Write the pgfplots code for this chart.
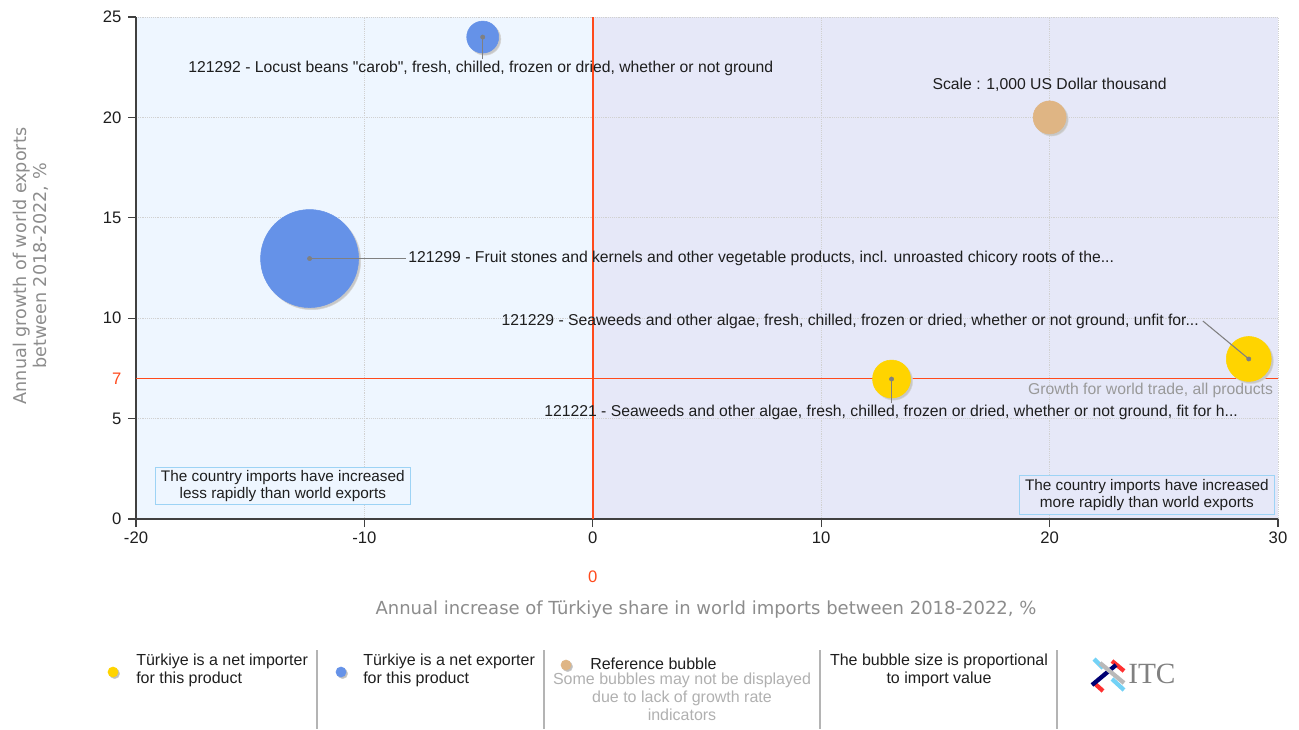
\documentclass[border=0pt]{standalone}
\usepackage{fontspec}
\setmainfont{Liberation Sans}
\newfontfamily\titlefont{DejaVu Sans}
\newfontfamily\logofont{Liberation Serif}
\usepackage{pgfplots}
\usepackage{pgfplotstable}
\pgfplotsset{compat=1.18}

\definecolor{bgleft}{HTML}{EEF6FF}
\definecolor{bgright}{HTML}{E6E8F8}
\definecolor{quadline}{HTML}{FF4A1C}
\definecolor{expblue}{HTML}{6592E8}
\definecolor{impyellow}{HTML}{FFD400}
\definecolor{reftan}{HTML}{DFB584}
\definecolor{boxblue}{HTML}{9DD3F5}
\definecolor{titlegray}{HTML}{8C8C8C}
\definecolor{notegray}{HTML}{B0B0B0}
\definecolor{sepgray}{HTML}{B4B4B4}
\definecolor{txt}{HTML}{1E1E1E}
\definecolor{linkgray}{HTML}{808080}

% bubble data: x = share increase, y = world export growth, r = radius in px
\pgfplotstableread{
x y r
-4.82 24.00 16
-12.40 12.97 49
}\exporters
\pgfplotstableread{
x y r
13.08 6.97 19
28.72 7.97 22.5
}\importers
\pgfplotstableread{
x y r
20 20 16.5
}\reference

\pgfplotsset{
  bubble/.style={only marks, mark=*, scatter,
    scatter/use mapped color={#1},
    visualization depends on={0.75*\thisrow{r} \as \rad},
    scatter/@pre marker code/.append style={/tikz/mark size=\rad}},
  leader/.style={linkgray, line width=0.8pt, no marks, on layer=axis foreground},
}

\newcommand{\annot}{\fontsize{11.8}{14}\selectfont}

\begin{document}
\begin{tikzpicture}[x=1pt,y=1pt]
\path (0,0) rectangle (974.25,546.75);

\begin{axis}[
  set layers,
  at={(102pt,157.5pt)}, anchor=south west,
  scale only axis, width=856.5pt, height=376.5pt,
  xmin=-20, xmax=30, ymin=0, ymax=25,
  xtick={-20,-10,...,30}, ytick={0,5,...,25},
  axis lines=left, axis line style={-, line width=0.9pt, draw=black!75},
  tick style={line width=0.8pt, draw=black!75},
  major tick length=6pt, tick align=outside,
  grid=major, grid style={densely dotted, line width=0.5pt, black!18},
  tick label style={font=\fontsize{12.5}{14}\selectfont, text=txt},
  yticklabel style={xshift=-1.5pt},
  /pgf/number format/assume math mode=true,
  extra y ticks={7},
  extra y tick style={grid=none, tick style={draw=none},
    tick label style={text=quadline}},
  clip=false,
]
\begin{pgfonlayer}{axis background}
  \fill[bgleft] (axis cs:-20,0) rectangle (axis cs:0,25);
  \fill[bgright] (axis cs:0,0) rectangle (axis cs:30,25);
\end{pgfonlayer}

% quadrant lines
\draw[quadline, line width=1.1pt] (axis cs:0,0) -- (axis cs:0,25);
\draw[quadline, line width=1.1pt] (axis cs:-20,7) -- (axis cs:30,7);

% shadows, then bubbles
\begin{scope}[xshift=1.6pt, yshift=-1.6pt]
\addplot[bubble={draw=black!16, fill=black!22}] table {\exporters};
\addplot[bubble={draw=black!16, fill=black!22}] table {\importers};
\addplot[bubble={draw=black!16, fill=black!22}] table {\reference};
\end{scope}
\addplot[bubble={draw=expblue, fill=expblue}] table {\exporters};
\addplot[bubble={draw=impyellow, fill=impyellow}] table {\importers};
\addplot[bubble={draw=reftan, fill=reftan}] table {\reference};

% leader lines from bubble centres to their labels
\addplot[leader] coordinates {(-4.82,24.00) (-4.82,22.9)};
\addplot[leader] coordinates {(-12.40,12.97) (-8.2,12.97)};
\addplot[leader] coordinates {(28.72,7.97) (26.71,9.86)};
\addplot[leader] coordinates {(13.08,6.97) (13.08,5.8)};
\addplot[only marks, mark=*, mark size=1.6pt, linkgray, on layer=axis foreground] table {\exporters};
\addplot[only marks, mark=*, mark size=1.6pt, linkgray, on layer=axis foreground] table {\importers};

% labels
\node[font=\annot, text=txt] at (axis cs:-4.90,22.46)
  {121292 - Locust beans \textquotedbl carob\textquotedbl, fresh, chilled, frozen or dried, whether or not ground};
\node[font=\annot, text=txt, anchor=west, inner sep=1pt] at (axis cs:-8.14,12.97)
  {121299 - Fruit stones and kernels and other vegetable products, incl. unroasted chicory roots of the...};
\node[font=\annot, text=txt, anchor=east, inner sep=1pt] at (axis cs:26.6,9.86)
  {121229 - Seaweeds and other algae, fresh, chilled, frozen or dried, whether or not ground, unfit for...};
\node[font=\annot, text=txt] at (axis cs:13.06,5.33)
  {121221 - Seaweeds and other algae, fresh, chilled, frozen or dried, whether or not ground, fit for h...};
\node[font=\annot, text=txt] at (axis cs:20,21.61) {Scale : 1,000 US Dollar thousand};
\node[font=\annot, text=black!40, anchor=east, inner sep=1pt] at (axis cs:29.85,6.42)
  {Growth for world trade, all products};

% quadrant notes
\node[draw=boxblue, line width=0.8pt, fill=bgleft, align=center, inner xsep=4pt, inner ysep=2pt,
  font=\fontsize{11.5}{12.5}\selectfont, text=txt] at (axis cs:-13.57,1.64)
  {The country imports have increased\\less rapidly than world exports};
\node[draw=boxblue, line width=0.8pt, fill=bgright, align=center, inner xsep=4pt, inner ysep=3pt,
  font=\fontsize{11.5}{12.5}\selectfont, text=txt] at (axis cs:24.26,1.2)
  {The country imports have increased\\more rapidly than world exports};

\node[font=\fontsize{12.5}{14}\selectfont, text=quadline] at (axis cs:0,-2.89) {0};
\end{axis}

% frame in pixel units for titles and the key below the plot
\begin{axis}[
  at={(0pt,0pt)}, anchor=south west,
  scale only axis, width=974.25pt, height=546.75pt,
  xmin=0, xmax=1299, ymin=0, ymax=729,
  hide axis, clip=false,
]
\node[font=\titlefont\fontsize{13.5}{15}\selectfont, text=titlegray] at (axis cs:706,119)
  {Annual increase of Türkiye share in world imports between 2018-2022, \%};
\node[font=\titlefont\fontsize{13.2}{15}\selectfont, text=titlegray, rotate=90, align=center]
  at (axis cs:31,463) {Annual growth of world exports\\between 2018-2022, \%};

% separators
\draw[sepgray, line width=0.8pt] (axis cs:317,79) -- (axis cs:317,0);
\draw[sepgray, line width=0.8pt] (axis cs:544,79) -- (axis cs:544,0);
\draw[sepgray, line width=0.8pt] (axis cs:820,79) -- (axis cs:820,0);
\draw[sepgray, line width=0.8pt] (axis cs:1057,79) -- (axis cs:1057,0);

% key bubbles
\addplot[only marks, mark=*, mark size=3.8pt, draw=black!20, fill=black!25,
  every mark/.append style={xshift=1.2pt, yshift=-1.2pt}] coordinates {(113,57) (341,57) (566,64)};
\addplot[only marks, mark=*, mark size=3.8pt, impyellow] coordinates {(113,57)};
\addplot[only marks, mark=*, mark size=3.8pt, expblue] coordinates {(341,57)};
\addplot[only marks, mark=*, mark size=3.8pt, reftan] coordinates {(566,64)};

\node[font=\fontsize{12}{13.3}\selectfont, text=txt, anchor=north west, align=left, inner sep=0pt]
  at (axis cs:136,75) {Türkiye is a net importer\\for this product};
\node[font=\fontsize{12}{13.3}\selectfont, text=txt, anchor=north west, align=left, inner sep=0pt]
  at (axis cs:363,75) {Türkiye is a net exporter\\for this product};
\node[font=\fontsize{12}{13.3}\selectfont, text=txt, anchor=west, inner sep=0pt]
  at (axis cs:590,65) {Reference bubble};
\node[font=\fontsize{12}{13.3}\selectfont, text=notegray, anchor=north, align=center, inner sep=0pt]
  at (axis cs:682,56) {Some bubbles may not be displayed\\due to lack of growth rate\\indicators};
\node[font=\fontsize{12}{13.3}\selectfont, text=txt, anchor=north, align=center, inner sep=0pt]
  at (axis cs:939,75) {The bubble size is proportional\\to import value};

% ITC logo
\draw[line width=3.2pt, cyan!55] (axis cs:1094,70) -- (axis cs:1103,61);
\draw[line width=3.2pt, cyan!55] (axis cs:1112,50) -- (axis cs:1124,39);
\draw[line width=3.2pt, red!75!pink] (axis cs:1112,68) -- (axis cs:1124,58);
\draw[line width=3.2pt, red!75!pink] (axis cs:1093,47) -- (axis cs:1103,38);
\draw[line width=3.2pt, blue!45!black] (axis cs:1092,44) -- (axis cs:1116,64);
\draw[line width=3.2pt, gray!55] (axis cs:1100,66) -- (axis cs:1124,46);
\node[font=\logofont\fontsize{22}{22}\selectfont, text=gray, anchor=west, inner sep=0pt]
  at (axis cs:1128,55) {ITC};
\end{axis}
\end{tikzpicture}
\end{document}
